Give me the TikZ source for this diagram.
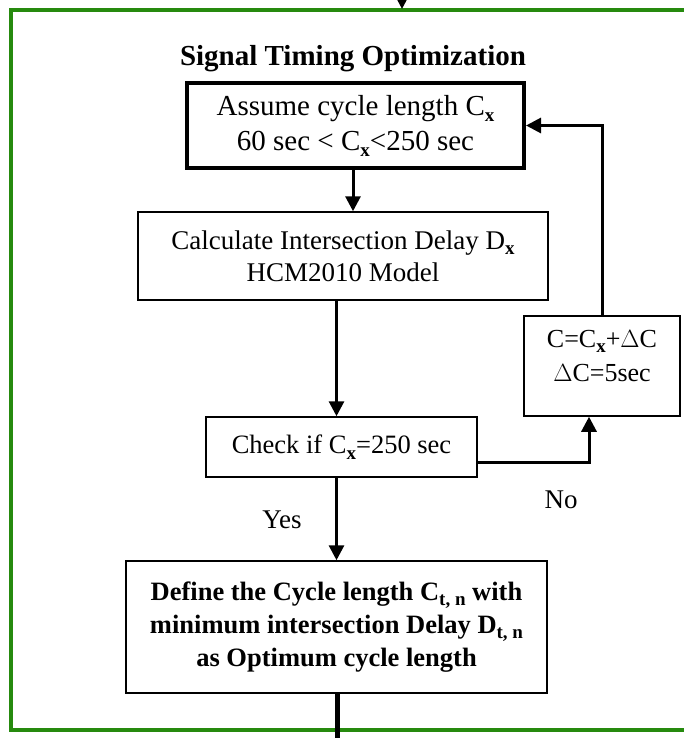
\documentclass[tikz,border=0pt]{standalone}
\usepackage{fontspec}
\setmainfont{Liberation Serif}
\usetikzlibrary{arrows.meta,calc}

% lowered bold subscript as set in the flowchart
\newcommand\mysub[1]{\raisebox{-0.45ex}{\fontsize{19}{19}\selectfont\bfseries #1}}

\definecolor{framegreen}{RGB}{38,138,14}

\begin{document}
\begin{tikzpicture}[x=1pt,y=-1pt,
  every node/.style={font=\fontsize{27}{33}\selectfont, align=center, inner sep=0pt},
  box/.style={draw=black, line width=1.5pt, fill=white},
  flow/.style={line width=3pt, -{Triangle[length=15pt,width=15pt]}},
  plain/.style={line width=3pt}
]
\useasboundingbox (0,0) rectangle (684,738);

% outer green frame (open on the right)
\draw[framegreen, line width=4pt] (700,10) -- (11,10) -- (11,730) -- (700,730);

% title
\node[font=\fontsize{29}{33}\selectfont\bfseries] (title) at (353,59) {Signal Timing Optimization};

% process boxes
\node[box, line width=4pt, minimum width=337pt, minimum height=85pt, font=\fontsize{29}{35}\selectfont] (assume) at (355.5,125.5)
  {Assume cycle length C\mysub{x}\\60 sec < C\mysub{x}<250 sec};
\node[box, minimum width=410pt, minimum height=88pt, font=\fontsize{27}{32}\selectfont] (calc) at (343,256)
  {Calculate Intersection Delay D\mysub{x}\\HCM2010 Model};
\node[box, minimum width=271pt, minimum height=60pt, font=\fontsize{26.5}{32}\selectfont] (check) at (341.5,447)
  {Check if C\mysub{x}=250 sec};
\node[box, minimum width=156pt, minimum height=100pt, text depth=20pt, font=\fontsize{26}{34}\selectfont] (incr) at (602,366)
  {C=C\mysub{x}+$\Delta$C\\$\Delta$C=5sec};
\node[box, minimum width=421pt, minimum height=132pt, font=\fontsize{26.5}{33}\selectfont\bfseries] (def) at (336.5,627)
  {Define the Cycle length C\mysub{t, n} with\\minimum intersection Delay D\mysub{t, n}\\as Optimum cycle length};

% branch labels
\node (yes) at (282,520) {Yes};
\node (no) at (561,500) {No};

% incoming and outgoing links of the frame
\coordinate (topin) at (402,-8);
\coordinate (frametop) at (402,9);
\coordinate (bottomout) at (337,750);
\draw[flow] (topin) -- (frametop);
\draw[line width=5pt] (def.south -| bottomout) -- (bottomout);

% main flow
\draw[flow] (assume.south -| 353,0) -- (calc.north -| 353,0);
\draw[flow] (calc.south -| def.north) -- (check.north -| def.north);
\draw[flow] (check.south -| def.north) -- (def.north);

% loop back for the next cycle length
\draw[flow] ($(check.south east)+(0,-15)$) -| ($(incr.south)+(-13,0)$);
\draw[flow] (incr.north) |- (assume.east);
\end{tikzpicture}
\end{document}
